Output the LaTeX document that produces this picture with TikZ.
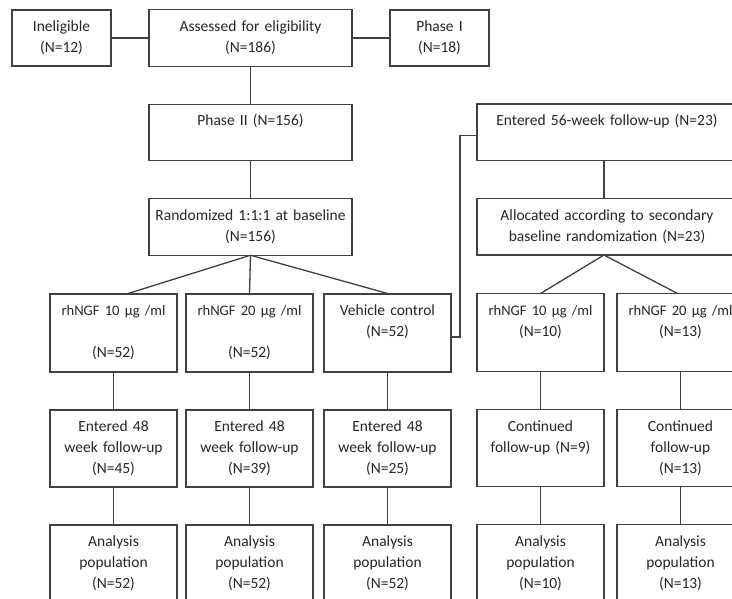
\documentclass[tikz,border=0pt]{standalone}
\usepackage{fontspec}
\setmainfont{Carlito}
\usetikzlibrary{positioning}

\newcommand{\dosetext}[1]{{\fontsize{14.6}{21}\selectfont rhNGF #1 µg /ml}}

\begin{document}
\begin{tikzpicture}[x=1pt,y=1pt]

        \tikzstyle{flowbox} = [rectangle, draw=black!75, line width=1.4pt, align=center,
            inner xsep=2pt, inner ysep=0pt, outer sep=0pt, text height=21.5pt, text=black!85,
            font=\fontsize{15.5}{21}\selectfont]
        \tikzstyle{sidebox}   = [flowbox, text width=95pt,  text depth=34.5pt]
        \tikzstyle{mainbox}   = [flowbox, text width=199pt, text depth=35pt]
        \tikzstyle{widebox}   = [flowbox, text width=256pt, text depth=35pt]
        \tikzstyle{armbox}    = [flowbox, text width=123pt, text depth=56.5pt]
        \tikzstyle{followbox} = [flowbox, text width=123pt, text depth=55.5pt]
        \tikzstyle{link}      = [draw=black!75, line width=1.3pt]

        \useasboundingbox (0,0) rectangle (732,-598);
        \clip (0,0) rectangle (732,-598);

        % screening
        \node[sidebox, anchor=north west] (inelig)   at (12,-10) {Ineligible\\(N=12)};
        \node[mainbox, right=38pt of inelig]         (assessed)  {Assessed for eligibility\\(N=186)};
        \node[sidebox, right=38pt of assessed]       (phaseone)  {Phase I\\(N=18)};
        \node[mainbox, below=38pt of assessed]       (phasetwo)  {Phase II (N=156)};
        \node[mainbox, below=38pt of phasetwo]       (random)    {Randomized 1:1:1 at baseline\\(N=156)};

        % first randomization
        \node[armbox, anchor=north west] (armten)    at (50,-294) {\dosetext{10}\\[21pt](N=52)};
        \node[armbox, right=9pt of armten]           (armtwenty) {\dosetext{20}\\[21pt](N=52)};
        \node[armbox, right=11pt of armtwenty]       (vehicle)   {Vehicle control\\(N=52)};
        \node[followbox, below=38pt of armten]       (weekten)   {Entered 48\\week follow-up\\(N=45)};
        \node[followbox, below=38pt of armtwenty]    (weektwenty){Entered 48\\week follow-up\\(N=39)};
        \node[followbox, below=38pt of vehicle]      (weekveh)   {Entered 48\\week follow-up\\(N=25)};
        \node[followbox, below=38pt of weekten]      (popten)    {Analysis\\population\\(N=52)};
        \node[followbox, below=38pt of weektwenty]   (poptwenty) {Analysis\\population\\(N=52)};
        \node[followbox, below=38pt of weekveh]      (popveh)    {Analysis\\population\\(N=52)};

        % extension
        \node[widebox, anchor=north west] (extension) at (477,-104) {Entered 56-week follow-up (N=23)};
        \node[widebox, below=38pt of extension]      (secondary) {Allocated according to secondary\\baseline randomization (N=23)};
        \node[armbox, below right=38.5pt and 0pt of secondary.south west] (extten) {\dosetext{10}\\(N=10)};
        \node[armbox, right=13pt of extten]          (exttwenty) {\dosetext{20}\\(N=13)};
        \node[followbox, below=38pt of extten]       (contten)   {Continued\\follow-up (N=9)};
        \node[followbox, below=38pt of exttwenty]    (conttwenty){Continued\\follow-up\\(N=13)};
        \node[followbox, below=38pt of contten]      (extpopten) {Analysis\\population\\(N=10)};
        \node[followbox, below=38pt of conttwenty]   (extpoptwenty) {Analysis\\population\\(N=13)};

        \draw[link] (inelig)   -- (assessed);
        \draw[link] (assessed) -- (phaseone);
        \draw[link] (assessed) -- (phasetwo);
        \draw[link] (phasetwo) -- (random);
        \draw[link] (random.south) -- ([xshift=13pt]armten.north);
        \draw[link] (random.south) -- (armtwenty.north);
        \draw[link] (random.south) -- ([xshift=2pt]vehicle.north);
        \draw[link] (armten)     -- (weekten)    -- (popten);
        \draw[link] (armtwenty)  -- (weektwenty) -- (poptwenty);
        \draw[link] (vehicle)    -- (weekveh)    -- (popveh);
        \draw[link] ([yshift=-4pt]vehicle.east) -- ++(9pt,0) |- ([yshift=-3pt]extension.west);
        \draw[link] ([xshift=-3pt]extension.south) -- ([xshift=-3pt]secondary.north);
        \draw[link] ([xshift=-3pt]secondary.south) -- (extten.north);
        \draw[link] ([xshift=-3pt]secondary.south) -- ([xshift=-3pt]exttwenty.north);
        \draw[link] (extten)    -- (contten)    -- (extpopten);
        \draw[link] (exttwenty) -- (conttwenty) -- (extpoptwenty);

      \end{tikzpicture}
\end{document}
